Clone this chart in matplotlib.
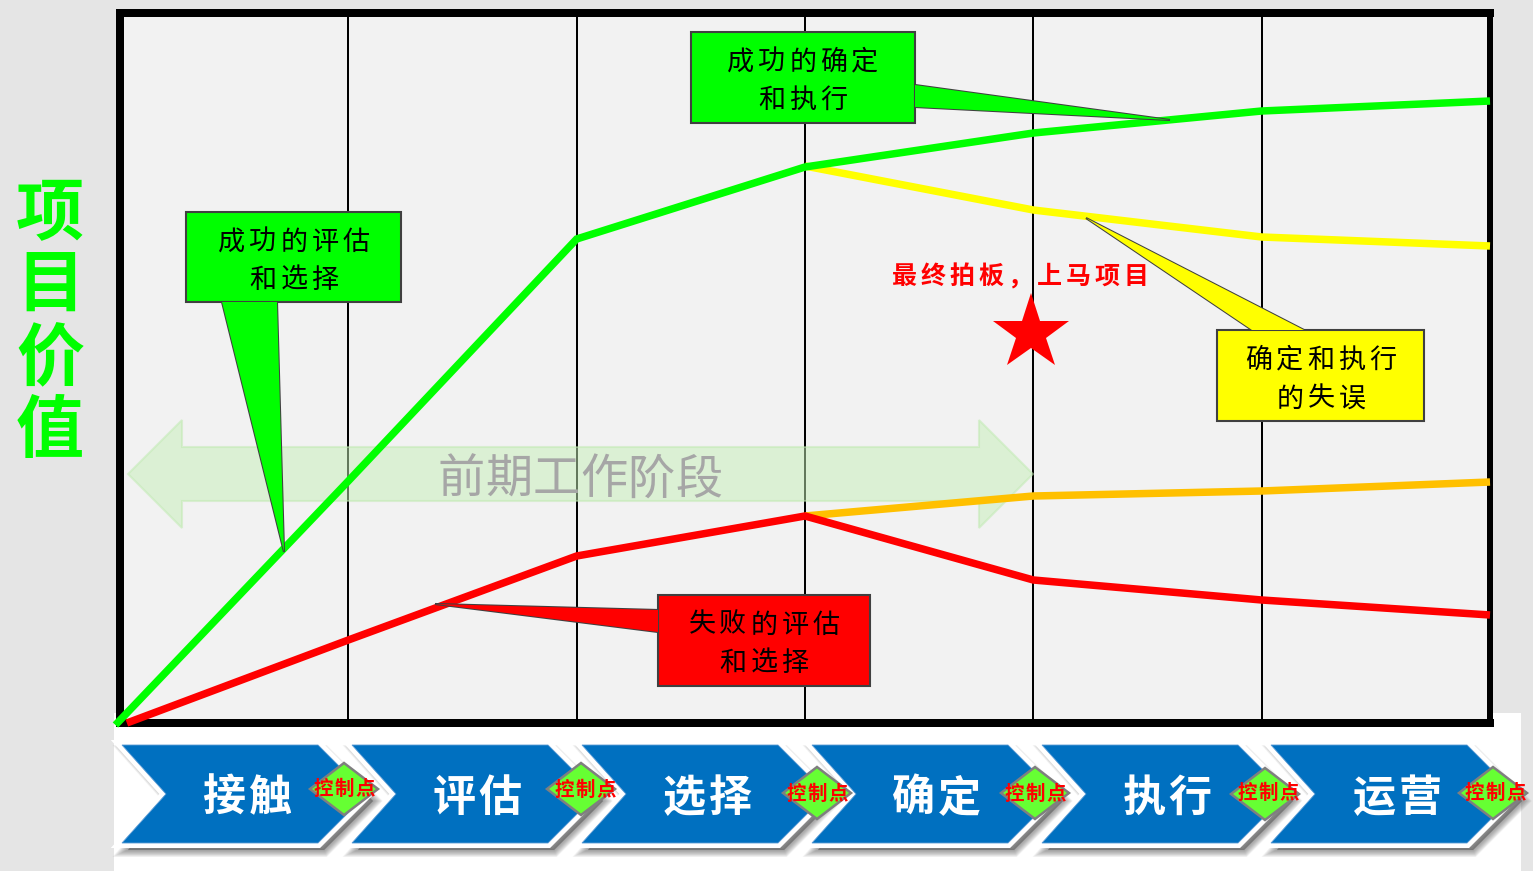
import matplotlib
matplotlib.use("Agg")
import matplotlib.pyplot as plt
from matplotlib.patches import Polygon, Rectangle

plt.rcParams['font.family'] = ['Noto Sans CJK SC', 'DejaVu Sans']

W, H = 1533, 871

# stage index on x, height above the baseline on y
green_x = [-0.02, 1, 2, 3, 4, 5, 6]
green_y = [-2, 242, 484, 556, 590, 612, 622]
yellow_x = [3, 4, 5, 6]
yellow_y = [557, 513, 486, 477]
orange_x = [3, 4, 5, 6]
orange_y = [207, 227, 232, 241]
red_x = [0.03, 1, 2, 3, 4, 5, 6]
red_y = [0, 83, 167, 207, 143, 123, 108]

stages = ["接触", "评估", "选择", "确定", "执行", "运营"]
ylabel_chars = ["项", "目", "价", "值"]


def px(v):
    # pixel length to points
    return v * 72 / 100


def spaced(ax, cx, cy, s, step, **kw):
    # one character at a time, the reference has wide letter spacing
    x0 = cx - step * (len(s) - 1) / 2
    for i, c in enumerate(s):
        ax.text(x0 + i * step, cy, c, ha="center", va="center", **kw)


def callout(ax, box, tail, color, lines, ys, cx):
    l, t, r, b = box
    # box outline with the tail spliced in
    ax.add_patch(Polygon(tail, closed=True, fc=color, ec="#404040", lw=1.5, zorder=5))
    ax.add_patch(Rectangle((l, t), r - l, b - t, fc=color, ec="#404040", lw=1.5, zorder=5))
    # hide the join between tail and box
    ax.add_patch(Polygon(tail, closed=True, fc=color, ec="none", zorder=5.1))
    for s, y in zip(lines, ys):
        spaced(ax, cx, y, s, 31, fontsize=19.5, color="black", zorder=6)


def chevron(ax, x0, y0=745):
    pts = [(x0, y0), (x0 + 196, y0), (x0 + 245, y0 + 49),
           (x0 + 196, y0 + 98), (x0, y0 + 98), (x0 + 44, y0 + 49)]
    # soft shadow from stacked outlines
    for k in range(10, 0, -1):
        shifted = [(a + 6, b + 7) for a, b in pts]
        ax.add_patch(Polygon(shifted, closed=True, fc="#555555", ec="#555555",
                             lw=k, alpha=0.07, zorder=2))
    ax.add_patch(Polygon(pts, closed=True, fc="white", ec="white", lw=px(10),
                         joinstyle="miter", zorder=3))
    ax.add_patch(Polygon(pts, closed=True, fc="#0070C0", ec="#5b9bd5", lw=0.6, zorder=3.1))


fig = plt.figure(figsize=(W / 100, H / 100), dpi=100, facecolor="#e5e5e5")

# pixel layer underneath
under = fig.add_axes([0, 0, 1, 1], zorder=0)
under.set_xlim(0, W)
under.set_ylim(H, 0)
under.axis("off")
under.add_patch(Rectangle((114, 713), 1407, 158, fc="white", ec="none"))

# chart
ax = fig.add_axes([120 / W, 1 - 723 / H, 1370 / W, 710 / H], zorder=1)
ax.set_xlim(0, 6)
ax.set_ylim(0, 710)
ax.set_facecolor("#f2f2f2")
ax.set_xticks([])
ax.set_yticks([])
for sp in ax.spines.values():
    sp.set_linewidth(px(8))
    sp.set_color("black")
    sp.set_zorder(2.5)
ax.spines["right"].set_linewidth(px(6))
ax.vlines([1, 2, 3, 4, 5], 0, 710, color="black", lw=px(2), zorder=1)

# double arrow behind the lines
arrow = [(128, 474), (182, 420), (182, 447), (979, 447), (979, 420), (1033, 474),
         (979, 528), (979, 501), (182, 501), (182, 528)]
ax.add_patch(Polygon(arrow, closed=True, transform=under.transData, fc="#c6f0b8",
                     ec="#bfeab0", lw=1.5, alpha=0.5, zorder=1.5))
spaced(ax, 580, 480, "前期工作阶段", 47.5, fontsize=34, color="#a6a6a6", zorder=1.6,
       transform=under.transData)

for xs, ys, col in [(yellow_x, yellow_y, "#ffff00"), (orange_x, orange_y, "#ffc000"),
                    (red_x, red_y, "#ff0000"), (green_x, green_y, "#00ff00")]:
    ax.plot(xs, ys, color=col, lw=px(7.5), solid_capstyle="butt", solid_joinstyle="miter",
            clip_on=False, zorder=3)

# pixel layer on top
top = fig.add_axes([0, 0, 1, 1], zorder=2)
top.set_xlim(0, W)
top.set_ylim(H, 0)
top.axis("off")
top.patch.set_alpha(0)

callout(top, (186, 212, 401, 302), [(222, 302), (284, 552), (277, 302)], "#00ff00",
        ["成功的评估", "和选择"], [242, 280], 294)
callout(top, (691, 32, 915, 123), [(915, 85), (1170, 120), (915, 107)], "#00ff00",
        ["成功的确定", "和执行"], [62, 100], 803)
callout(top, (1217, 330, 1424, 421), [(1252, 330), (1086, 218), (1304, 330)], "#ffff00",
        ["确定和执行", "的失误"], [360, 399], 1321)
callout(top, (658, 595, 870, 686), [(658, 610), (435, 604), (658, 632)], "#ff0000",
        ["失败的评估", "和选择"], [625, 663], 764)

spaced(top, 1020, 277, "最终拍板，上马项目", 29, fontsize=18, color="#ff0000",
       fontweight="bold", zorder=6)
top.plot([1031], [333], marker="*", ms=px(80), color="#ff0000", mew=0, zorder=6)

for c, y in zip(ylabel_chars, [216, 286, 361, 432]):
    top.text(50, y, c, ha="center", va="center", fontsize=49, fontweight="bold", color="#00ff00")

chev_x = [122, 352, 582, 812, 1042, 1271]
label_x = [247, 477, 707, 936, 1167, 1397]
dia_x = [344, 581, 817, 1035, 1265, 1493]
dia_y = [789, 789, 793, 793, 794, 793]
txt_x = [344, 585, 817, 1035, 1268, 1495]
txt_y = [789, 790, 794, 794, 793, 793]

for x0 in chev_x:
    chevron(top, x0)
for s, x in zip(stages, label_x):
    spaced(top, x, 798, s, 46, fontsize=31, color="white", fontweight="bold", zorder=4)
for dx, dy, tx, ty in zip(dia_x, dia_y, txt_x, txt_y):
    top.add_patch(Polygon([(dx - 34, dy), (dx, dy - 26), (dx + 34, dy), (dx, dy + 26)], closed=True,
                          fc="#66ff33", ec="#7f7f7f", lw=px(2.5), zorder=7))
    spaced(top, tx, ty, "控制点", 21, fontsize=14, color="#ff0000", fontweight="bold", zorder=8)

fig.savefig("out.png", dpi=100)
